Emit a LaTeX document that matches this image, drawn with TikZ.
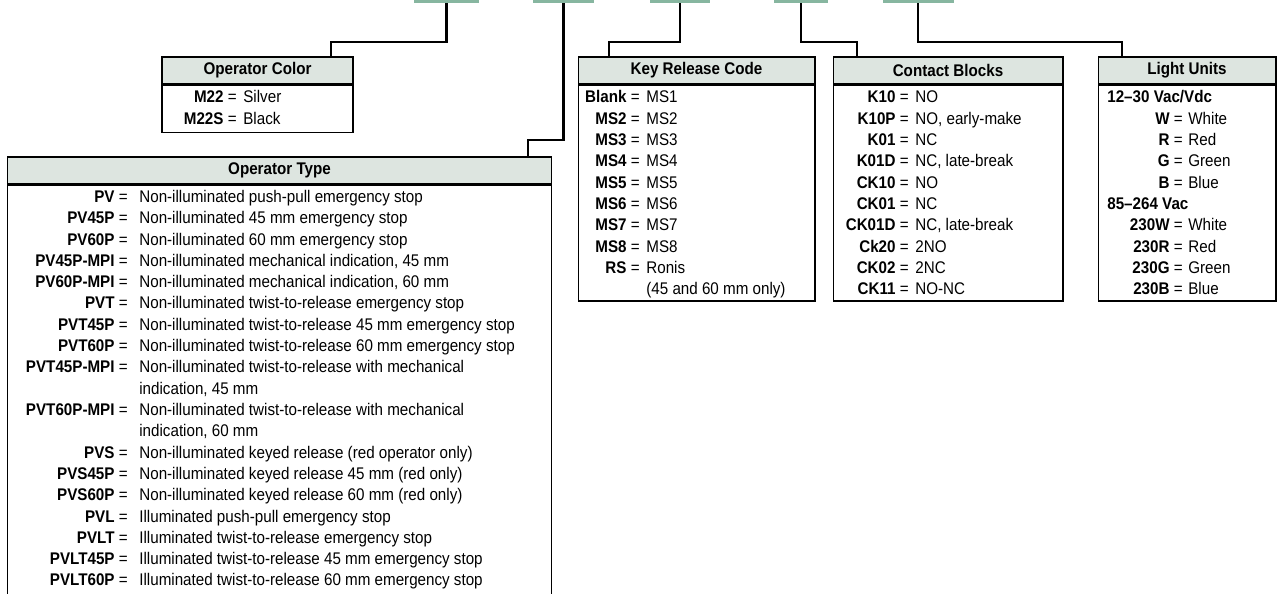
\documentclass[tikz,border=0pt]{standalone}
\usepackage{fontspec}
\setmainfont{Liberation Sans}[FakeStretch=0.9]
\usetikzlibrary{positioning}
\definecolor{barcol}{RGB}{135,182,160}
\definecolor{headfill}{RGB}{221,229,224}

\begin{document}
\begin{tikzpicture}[
  x=0.02cm, y=-0.02cm,
  font=\fontsize{9.6}{11.5}\selectfont,
  % code bars on top, boxes and their rows
  bar/.style={fill=barcol,draw=none,minimum height=0.06cm,inner sep=0pt},
  head/.style={draw=black,line width=0.6pt,fill=headfill,minimum height=0.54cm,inner sep=0pt,font=\fontsize{9.6}{11.5}\selectfont\bfseries},
  body/.style={draw=black,line width=0.6pt,inner sep=0pt},
  conn/.style={draw=black,line width=1.3pt},
  code/.style={anchor=base east,inner sep=0pt},
  desc/.style={anchor=base west,inner sep=0pt}
]
\useasboundingbox (0,0) rectangle (1280,594);

\node[bar,minimum width=1.30cm] (b1) at (446.5,1.5) {};
\node[bar,minimum width=1.22cm] (b2) at (563.5,1.5) {};
\node[bar,minimum width=1.20cm] (b3) at (680,1.5) {};
\node[bar,minimum width=1.08cm] (b4) at (801,1.5) {};
\node[bar,minimum width=1.42cm] (b5) at (918,1.5) {};

% boxes
\node[head,minimum width=3.82cm] (color) at (257.5,70.5) {Operator Color};
\node[body,minimum width=3.82cm,minimum height=0.94cm,below=0pt of color] (colorbox) {};
\node[head,minimum width=10.9cm] (type) at (279.5,170.5) {Operator Type};
\node[body,minimum width=10.9cm,minimum height=8.4cm,below=0pt of type] (typebox) {};
\node[head,minimum width=4.74cm] (key) at (696.5,70.5) {Key Release Code};
\node[body,minimum width=4.74cm,minimum height=4.32cm,below=0pt of key] (keybox) {};
\node[head,minimum width=4.60cm] (contact) at (948,70.5) {Contact Blocks};
\node[body,minimum width=4.60cm,minimum height=4.32cm,below=0pt of contact] (contactbox) {};
\node[head,minimum width=3.56cm] (light) at (1187,70.5) {Light Units};
\node[body,minimum width=3.56cm,minimum height=4.32cm,below=0pt of light] (lightbox) {};

% connectors
\coordinate (k1) at (331,42);
\coordinate (k2) at (528,140);
\coordinate (k3) at (609,42);
\coordinate (k4) at (857,42);
\coordinate (k5) at (1122,42);
\draw[conn] (b1.south) |- (k1) -- (k1 |- color.north);
\draw[conn] (b2.south) |- (k2) -- (k2 |- type.north);
\draw[conn] (b3.south) |- (k3) -- (k3 |- key.north);
\draw[conn] (b4.south) |- (k4) -- (k4 |- contact.north);
\draw[conn] (b5.south) |- (k5) -- (k5 |- light.north);

% operator color
\node[code] (c1) at (237,103) {\textbf{M22} =};
\node[desc] (c1v) at (243,103) {Silver};
\node[code] (c2) at (237,124.3) {\textbf{M22S} =};
\node[desc] (c2v) at (243,124.3) {Black};

% operator type
\node[code] (t1) at (128,202.5) {\textbf{PV} =};
\node[desc] (t1v) at (139,202.5) {Non-illuminated push-pull emergency stop};
\node[code] (t2) at (128,223.8) {\textbf{PV45P} =};
\node[desc] (t2v) at (139,223.8) {Non-illuminated 45 mm emergency stop};
\node[code] (t3) at (128,245.1) {\textbf{PV60P} =};
\node[desc] (t3v) at (139,245.1) {Non-illuminated 60 mm emergency stop};
\node[code] (t4) at (128,266.4) {\textbf{PV45P-MPI} =};
\node[desc] (t4v) at (139,266.4) {Non-illuminated mechanical indication, 45 mm};
\node[code] (t5) at (128,287.7) {\textbf{PV60P-MPI} =};
\node[desc] (t5v) at (139,287.7) {Non-illuminated mechanical indication, 60 mm};
\node[code] (t6) at (128,309) {\textbf{PVT} =};
\node[desc] (t6v) at (139,309) {Non-illuminated twist-to-release emergency stop};
\node[code] (t7) at (128,330.3) {\textbf{PVT45P} =};
\node[desc] (t7v) at (139,330.3) {Non-illuminated twist-to-release 45 mm emergency stop};
\node[code] (t8) at (128,351.6) {\textbf{PVT60P} =};
\node[desc] (t8v) at (139,351.6) {Non-illuminated twist-to-release 60 mm emergency stop};
\node[code] (t9) at (128,372.9) {\textbf{PVT45P-MPI} =};
\node[desc] (t9v) at (139,372.9) {Non-illuminated twist-to-release with mechanical};
\node[desc] (t9w) at (139,394.2) {indication, 45 mm};
\node[code] (t10) at (128,415.5) {\textbf{PVT60P-MPI} =};
\node[desc] (t10v) at (139,415.5) {Non-illuminated twist-to-release with mechanical};
\node[desc] (t10w) at (139,436.8) {indication, 60 mm};
\node[code] (t11) at (128,458.1) {\textbf{PVS} =};
\node[desc] (t11v) at (139,458.1) {Non-illuminated keyed release (red operator only)};
\node[code] (t12) at (128,479.4) {\textbf{PVS45P} =};
\node[desc] (t12v) at (139,479.4) {Non-illuminated keyed release 45 mm (red only)};
\node[code] (t13) at (128,500.7) {\textbf{PVS60P} =};
\node[desc] (t13v) at (139,500.7) {Non-illuminated keyed release 60 mm (red only)};
\node[code] (t14) at (128,522) {\textbf{PVL} =};
\node[desc] (t14v) at (139,522) {Illuminated push-pull emergency stop};
\node[code] (t15) at (128,543.3) {\textbf{PVLT} =};
\node[desc] (t15v) at (139,543.3) {Illuminated twist-to-release emergency stop};
\node[code] (t16) at (128,564.6) {\textbf{PVLT45P} =};
\node[desc] (t16v) at (139,564.6) {Illuminated twist-to-release 45 mm emergency stop};
\node[code] (t17) at (128,585.9) {\textbf{PVLT60P} =};
\node[desc] (t17v) at (139,585.9) {Illuminated twist-to-release 60 mm emergency stop};

% key release code
\node[code] (r1) at (640,103) {\textbf{Blank} =};
\node[desc] (r1v) at (646,103) {MS1};
\node[code] (r2) at (640,124.3) {\textbf{MS2} =};
\node[desc] (r2v) at (646,124.3) {MS2};
\node[code] (r3) at (640,145.6) {\textbf{MS3} =};
\node[desc] (r3v) at (646,145.6) {MS3};
\node[code] (r4) at (640,166.9) {\textbf{MS4} =};
\node[desc] (r4v) at (646,166.9) {MS4};
\node[code] (r5) at (640,188.2) {\textbf{MS5} =};
\node[desc] (r5v) at (646,188.2) {MS5};
\node[code] (r6) at (640,209.5) {\textbf{MS6} =};
\node[desc] (r6v) at (646,209.5) {MS6};
\node[code] (r7) at (640,230.8) {\textbf{MS7} =};
\node[desc] (r7v) at (646,230.8) {MS7};
\node[code] (r8) at (640,252.1) {\textbf{MS8} =};
\node[desc] (r8v) at (646,252.1) {MS8};
\node[code] (r9) at (640,273.4) {\textbf{RS} =};
\node[desc] (r9v) at (646,273.4) {Ronis};
\node[desc] (r9w) at (646,294.7) {(45 and 60 mm only)};

% contact blocks
\node[code] (k10) at (909,103) {\textbf{K10} =};
\node[desc] (k10v) at (915,103) {NO};
\node[code] (k10p) at (909,124.3) {\textbf{K10P} =};
\node[desc] (k10pv) at (915,124.3) {NO, early-make};
\node[code] (k01) at (909,145.6) {\textbf{K01} =};
\node[desc] (k01v) at (915,145.6) {NC};
\node[code] (k01d) at (909,166.9) {\textbf{K01D} =};
\node[desc] (k01dv) at (915,166.9) {NC, late-break};
\node[code] (ck10) at (909,188.2) {\textbf{CK10} =};
\node[desc] (ck10v) at (915,188.2) {NO};
\node[code] (ck01) at (909,209.5) {\textbf{CK01} =};
\node[desc] (ck01v) at (915,209.5) {NC};
\node[code] (ck01d) at (909,230.8) {\textbf{CK01D} =};
\node[desc] (ck01dv) at (915,230.8) {NC, late-break};
\node[code] (ck20) at (909,252.1) {\textbf{Ck20} =};
\node[desc] (ck20v) at (915,252.1) {2NO};
\node[code] (ck02) at (909,273.4) {\textbf{CK02} =};
\node[desc] (ck02v) at (915,273.4) {2NC};
\node[code] (ck11) at (909,294.7) {\textbf{CK11} =};
\node[desc] (ck11v) at (915,294.7) {NO-NC};

% light units
\node[desc] (lv1) at (1107,103) {\textbf{12--30 Vac/Vdc}};
\node[code] (l1) at (1183,124.3) {\textbf{W} =};
\node[desc] (l1v) at (1188,124.3) {White};
\node[code] (l2) at (1183,145.6) {\textbf{R} =};
\node[desc] (l2v) at (1188,145.6) {Red};
\node[code] (l3) at (1183,166.9) {\textbf{G} =};
\node[desc] (l3v) at (1188,166.9) {Green};
\node[code] (l4) at (1183,188.2) {\textbf{B} =};
\node[desc] (l4v) at (1188,188.2) {Blue};
\node[desc] (lv2) at (1107,209.5) {\textbf{85--264 Vac}};
\node[code] (l5) at (1183,230.8) {\textbf{230W} =};
\node[desc] (l5v) at (1188,230.8) {White};
\node[code] (l6) at (1183,252.1) {\textbf{230R} =};
\node[desc] (l6v) at (1188,252.1) {Red};
\node[code] (l7) at (1183,273.4) {\textbf{230G} =};
\node[desc] (l7v) at (1188,273.4) {Green};
\node[code] (l8) at (1183,294.7) {\textbf{230B} =};
\node[desc] (l8v) at (1188,294.7) {Blue};

\end{tikzpicture}
\end{document}
